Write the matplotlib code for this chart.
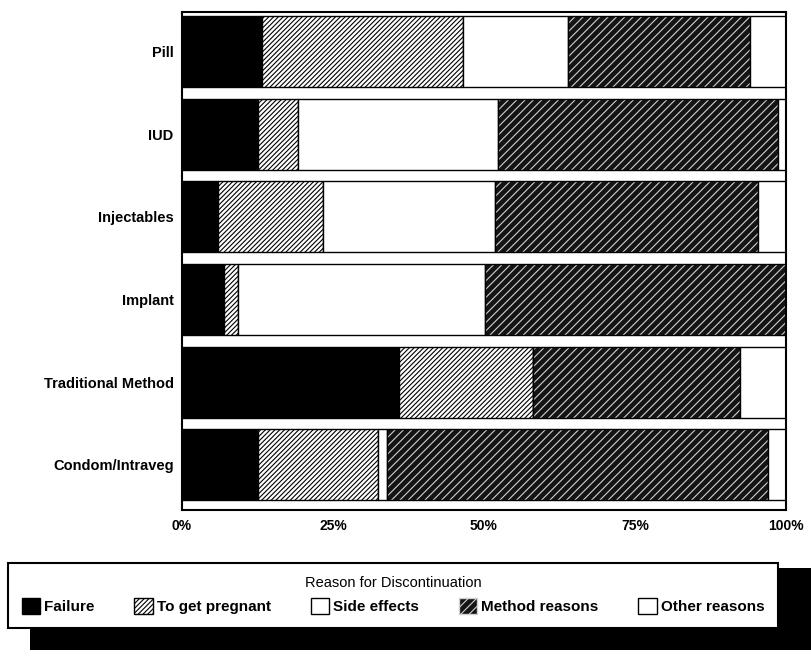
import numpy as np
import matplotlib
matplotlib.use('Agg')
import matplotlib.pyplot as plt
from matplotlib.patches import Patch, Rectangle

plt.rcParams['font.family'] = ['Liberation Sans', 'DejaVu Sans']
plt.rcParams['hatch.linewidth'] = 0.8

methods = ['Pill', 'IUD', 'Injectables', 'Implant', 'Traditional Method', 'Condom/Intraveg']
reasons = ['Failure', 'To get pregnant', 'Side effects', 'Method reasons', 'Other reasons']

# percent of discontinuations, per method
failure   = [13.2, 12.6, 6.0, 6.9, 36.0, 12.6]
pregnant  = [33.3, 6.7, 17.3, 2.4, 22.2, 19.9]
side      = [17.4, 33.1, 28.5, 40.8, 0.0, 1.4]
method_r  = [30.1, 46.3, 43.5, 49.9, 34.2, 63.2]
other     = [6.0, 1.3, 4.7, 0.0, 7.6, 2.9]

series = [failure, pregnant, side, method_r, other]
# (facecolor, hatch colour, hatch)
styles = [('black', 'black', None),
          ('white', 'black', '///////'),
          ('white', 'black', None),
          ('#141414', '#d0d0d0', '////'),
          ('white', 'black', None)]

fig = plt.figure(figsize=(8.12, 6.67), dpi=100)
ax = fig.add_axes([0.224, 0.235, 0.744, 0.747])

y = np.arange(len(methods))
left = np.zeros(len(methods))
for vals, (fc, hc, h) in zip(series, styles):
    vals = np.array(vals)
    ax.barh(y, vals, left=left, height=0.86, color=fc, edgecolor=hc,
            hatch=h, linewidth=0)
    ax.barh(y, vals, left=left, height=0.86, fill=False, edgecolor='black',
            linewidth=1.0)
    left += vals

ax.set_xlim(0, 100)
ax.set_ylim(len(methods) - 0.45, -0.48)
ax.set_yticks(y)
ax.set_yticklabels(methods, fontsize=10.5, fontweight='bold')
ax.set_xticks([0, 25, 50, 75, 100])
ax.set_xticklabels(['0%', '25%', '50%', '75%', '100%'], fontsize=10, fontweight='bold')
ax.tick_params(length=0, pad=6)
for s in ax.spines.values():
    s.set_linewidth(1.5)

# legend box with black drop shadow
fig.patches.append(Rectangle((0.037, 0.025), 0.963, 0.123, transform=fig.transFigure,
                             facecolor='black', edgecolor='none', zorder=0))
handles = []
for name, (fc, hc, h) in zip(reasons, styles):
    if h:
        handles.append(Patch(facecolor=fc, edgecolor=hc, hatch=h, label=name))
    else:
        handles.append(Patch(facecolor=fc, edgecolor='black', label=name))
leg = fig.legend(handles=handles, loc='center',
                 bbox_to_anchor=(0.01, 0.052, 0.948, 0.111), mode='expand',
                 ncol=5, title='Reason for Discontinuation', frameon=True,
                 fancybox=False, edgecolor='black', fontsize=11,
                 title_fontsize=10.5, handlelength=1.2, handleheight=1.2,
                 handletextpad=0.25, columnspacing=0.4, borderpad=0.9,
                 borderaxespad=0)
leg.get_frame().set_linewidth(1.5)
leg.get_frame().set_alpha(1)
for t in leg.get_texts():
    t.set_fontweight('bold')

fig.savefig('out.png', dpi=100)
